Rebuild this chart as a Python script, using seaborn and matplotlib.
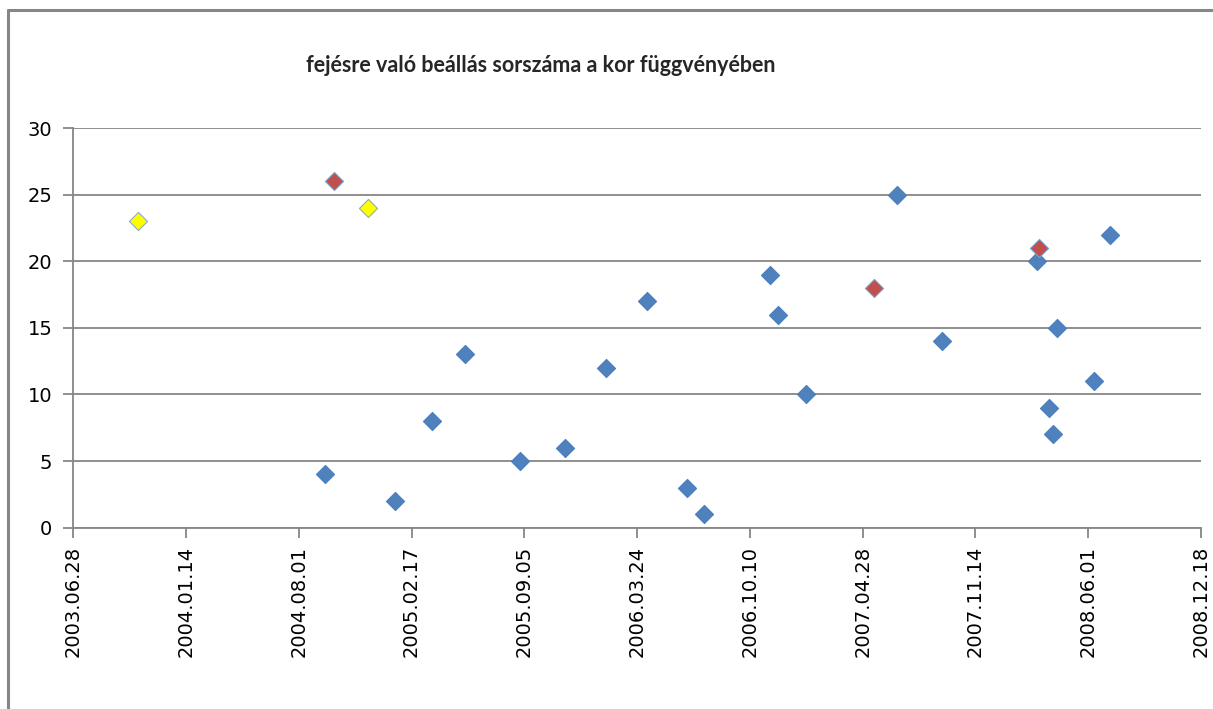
import matplotlib
matplotlib.use("Agg")
import matplotlib.pyplot as plt
import matplotlib.dates as mdates
from matplotlib.lines import Line2D
import seaborn as sns
import pandas as pd

# dates (x) and order number of the head-first posture (y), by group
blue_dates = ["2004-09-16", "2005-01-19", "2005-03-25", "2005-05-23", "2005-08-28",
              "2005-11-16", "2006-01-27", "2006-04-11", "2006-06-21", "2006-07-21",
              "2006-11-15", "2006-11-28", "2007-01-17", "2007-06-28", "2007-09-15",
              "2008-03-02", "2008-03-24", "2008-03-30", "2008-04-06", "2008-06-11",
              "2008-07-09"]
blue_values = [4, 2, 8, 13, 5, 6, 12, 17, 3, 1, 19, 16, 10, 25, 14, 20, 9, 7, 15, 11, 22]

red_dates = ["2004-10-03", "2007-05-18", "2008-03-06"]
red_values = [26, 18, 21]

yellow_dates = ["2003-10-21", "2004-12-01"]
yellow_values = [23, 24]

x_ticks = pd.date_range("2003-06-28", "2008-12-18", freq="200D")

df = pd.DataFrame({
    "date": pd.to_datetime(blue_dates + red_dates + yellow_dates),
    "value": blue_values + red_values + yellow_values,
    "group": ["blue"] * len(blue_dates) + ["red"] * len(red_dates) + ["yellow"] * len(yellow_dates),
})

sns.set_style("white")
plt.rcParams["font.family"] = ["DejaVu Sans"]

W, H = 1213, 709
fig = plt.figure(figsize=(W / 100, H / 100), dpi=100)
left, right, top, bottom = 73.3, 1201, 128, 527.7
ax = fig.add_axes([left / W, 1 - bottom / H, (right - left) / W, (bottom - top) / H])

palette = {"blue": "#4F81BD", "red": "#C0504D", "yellow": "#FFFF00"}
edges = {"blue": "#4A7EBB", "red": "#7F9FC8", "yellow": "#8EA9C8"}
for g in ["blue", "red", "yellow"]:
    sub = df[df["group"] == g]
    sns.scatterplot(data=sub, x="date", y="value", ax=ax, marker="D", s=85,
                    color=palette[g], edgecolor=edges[g], linewidth=0.8, zorder=3,
                    legend=False)

ax.set_xlim(x_ticks[0], x_ticks[-1])
ax.set_ylim(0, 30)
ax.set_yticks(range(0, 31, 5))
ax.set_xticks(x_ticks)
ax.xaxis.set_major_formatter(mdates.DateFormatter("%Y.%m.%d"))
ax.set_xlabel("")
ax.set_ylabel("")

ax.yaxis.grid(True, color="#868686", linewidth=1.3)
ax.xaxis.grid(False)
ax.set_axisbelow(True)
for side in ["top", "right"]:
    ax.spines[side].set_visible(False)
for side in ["left", "bottom"]:
    ax.spines[side].set_color("#868686")
    ax.spines[side].set_linewidth(1.3)

ax.tick_params(axis="x", which="major", direction="out", length=7, width=1.3,
               color="#868686", labelsize=14, labelcolor="#000000", rotation=90, pad=6,
               bottom=True)
ax.tick_params(axis="y", which="major", direction="out", length=7, width=1.3,
               color="#868686", labelsize=14, labelcolor="#000000", pad=8, left=True)

fig.text(541 / W, 1 - 66 / H, "fejésre való beállás sorszáma a kor függvényében",
         ha="center", va="center", fontsize=15.5, fontweight="bold", family=["Lato", "DejaVu Sans"])

# outer chart frame (cropped on the right and bottom)
fig.add_artist(Line2D([8 / W, 8 / W], [0, 1 - 10 / H], transform=fig.transFigure,
                      color="#868686", linewidth=2.2))
fig.add_artist(Line2D([8 / W, 1], [1 - 10 / H, 1 - 10 / H], transform=fig.transFigure,
                      color="#868686", linewidth=2.2))

fig.savefig("out.png", dpi=100, facecolor="white")
